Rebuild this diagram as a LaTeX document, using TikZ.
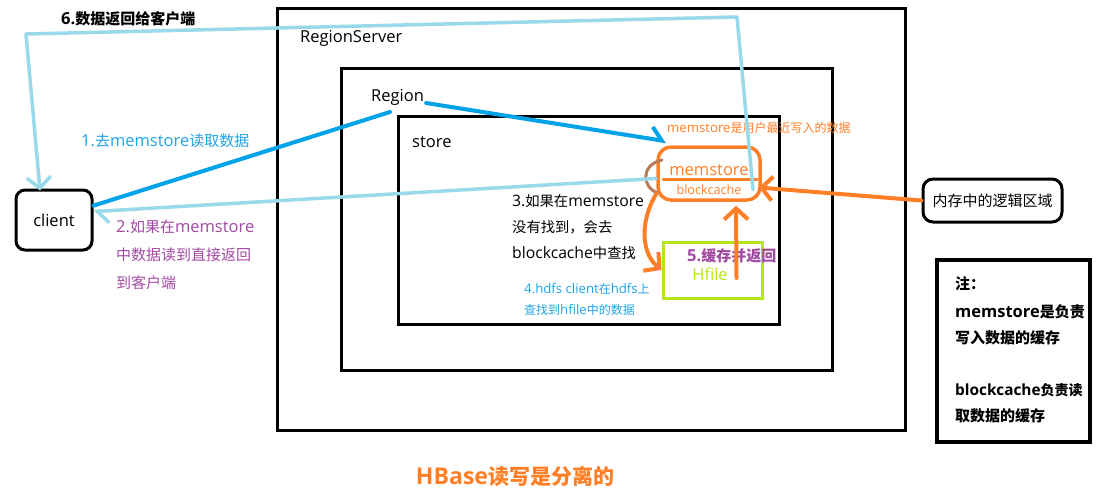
\documentclass[tikz,border=0pt]{standalone}
\usepackage{fontspec}
\setmainfont{Noto Sans CJK SC}
\newfontfamily\latf[Scale=1.1]{Open Sans}
\newcommand\lat[1]{{\latf #1}}
\usetikzlibrary{arrows.meta}
\definecolor{lblue}{HTML}{99D9EA}
\definecolor{dblue}{HTML}{00A2E8}
\definecolor{tblue}{HTML}{22A4E8}
\definecolor{orng}{HTML}{FF7F27}
\definecolor{purp}{HTML}{A349A4}
\definecolor{grn}{HTML}{B5E61D}
\definecolor{brwn}{HTML}{B97A57}
\begin{document}
\begin{tikzpicture}[x=1pt,y=-1pt,
  txt/.style={inner sep=0pt, anchor=west, font=\fontsize{15}{18}\selectfont},
  mid/.style={inner sep=0pt, anchor=west, font=\fontsize{14.3}{18}\selectfont},
  small/.style={inner sep=0pt, anchor=west, font=\fontsize{12}{14}\selectfont},
  bold/.style={inner sep=0pt, anchor=west, font=\fontsize{15}{18}\selectfont\bfseries},
  box/.style={draw, line width=3pt, inner sep=0pt},
  barb/.style={-{Straight Barb[length=11pt,width=24pt]}},
  harp/.style={-{Straight Barb[length=11pt,width=24pt,harpoon]}},
  conn/.style={line width=3.5pt, line cap=round, line join=round}
]
\useasboundingbox (0,0) rectangle (1107,491);
\fill[white] (0,0) rectangle (1107,491);

% boxes
\node (rs) [box, minimum width=628pt, minimum height=422pt] at (591,219) {};
\node (rg) [box, minimum width=491pt, minimum height=302pt] at (586.5,219) {};
\node (st) [box, minimum width=381pt, minimum height=208pt] at (588.5,220) {};
\node (client) [box, rounded corners=9pt, minimum width=76pt, minimum height=60pt] at (54,220) {};
\node (mem) [draw=orng, line width=3.5pt, rounded corners=13pt, inner sep=0pt, minimum width=102pt, minimum height=53pt] at (709,173.5) {};
\node (hfile) [draw=grn, line width=3pt, inner sep=0pt, minimum width=99pt, minimum height=56pt] at (712.5,270) {};
\node (logic) [box, rounded corners=10pt, minimum width=139pt, minimum height=43pt] at (992.5,200.5) {};
\node (note) [draw, line width=4pt, inner sep=0pt, minimum width=153pt, minimum height=182pt] at (1013.5,351) {};

% box texts
\node (rst) [txt] at (300,38) {\lat{RegionServer}};
\node (rgt) [txt] at (371,97) {\lat{Region}};
\node (stt) [txt] at (412,142) {\lat{store}};
\node (clt) [txt, anchor=center] at (client.center) {\lat{client}};
\node (lgt) [txt, anchor=center] at (logic.center) {内存中的逻辑区域};
\node (memt) [inner sep=0pt, text=orng, font=\fontsize{15}{18}\selectfont] at (709,170) {\lat{memstore}};
\node (bct) [inner sep=0pt, text=orng, font=\fontsize{11.5}{14}\selectfont] at (709,190) {\lat{blockcache}};
\node (hft) [inner sep=0pt, text=grn, font=\fontsize{15}{18}\selectfont] at (710,274) {\lat{Hfile}};

% internal details of memstore
\draw[orng, line width=3pt, line cap=round] (663,179) -- (757,179);
\draw[brwn, line width=3pt, line cap=round] (662,160) .. controls (640,165) and (642,188) .. (658,193);

% labels
\node (t6) [bold] at (61,19) {\lat{6.}数据返回给客户端};
\node (t1) [txt, text=tblue] at (81,141) {\lat{1.}去\lat{memstore}读取数据};
\node (t2a) [txt, text=purp] at (116,227) {\lat{2.}如果在\lat{memstore}};
\node (t2b) [txt, text=purp] at (116,255) {中数据读到直接返回};
\node (t2c) [txt, text=purp] at (116,283) {到客户端};
\node (t3a) [mid] at (512,201) {\lat{3.}如果在\lat{memstore}};
\node (t3b) [mid] at (512,227) {没有找到，会去};
\node (t3c) [mid] at (512,253) {\lat{blockcache}中查找};
\node (t4a) [small, text=tblue] at (524,289) {\lat{4.hdfs client}在\lat{hdfs}上};
\node (t4b) [small, text=tblue] at (524,310) {查找到\lat{hfile}中的数据};
\node (t5) [bold, text=purp] at (687,256) {\lat{5.}缓存并返回};
\node (tm) [small, text=orng] at (667,128) {\lat{memstore}是用户最近写入的数据};
\node (title) [inner sep=0pt, text=orng, font=\fontsize{21}{24}\selectfont\bfseries] at (515,476) {\lat{HBase}读写是分离的};
\node (n1) [bold] at (955,284) {注：};
\node (n2) [bold] at (955,312) {\lat{memstore}是负责};
\node (n3) [bold] at (955,338) {写入数据的缓存};
\node (n4) [bold, font=\fontsize{14}{18}\selectfont\bfseries] at (955,390) {\lat{blockcache}负责读};
\node (n5) [bold] at (955,416) {取数据的缓存};

% connectors
\coordinate (c6a) at (737,17);
\coordinate (c6b) at (26,34);
\draw[dblue, conn, line width=4pt] (client.20) -- ([shift={(19,15)}]rgt.west);
\draw[dblue, conn, line width=4pt, harp] ([shift={(2,6)}]rgt.east) -- ([shift={(10,-4)}]mem.north west);
\draw[lblue, conn, harp] ([shift={(0,5)}]mem.west) -- (client.12);
\draw[lblue, conn, barb] ([shift={(44,16)}]mem.center) -- (c6a) -- (c6b) -- ([xshift=-14pt,yshift=-2pt]client.north);
\draw[orng, conn, line width=4pt, barb] (logic.west) -- ([shift={(-3,14)}]mem.east);
\draw[orng, conn, line width=4pt, barb] ([shift={(24,8)}]hfile.center) -- ([shift={(27,4)}]mem.south);
\draw[orng, conn, line width=4pt, barb] ([shift={(0,-8)}]mem.south west) .. controls (638,225) and (643,255) .. (hfile.west);
\end{tikzpicture}
\end{document}
